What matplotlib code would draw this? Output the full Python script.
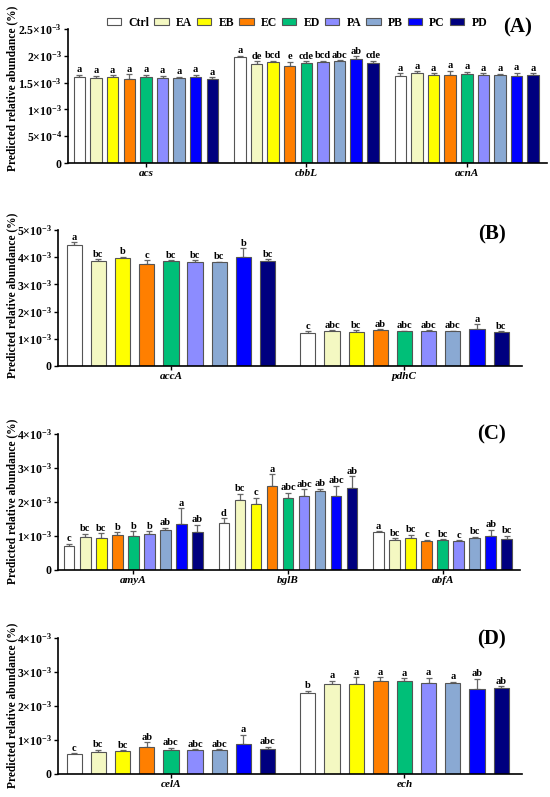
import matplotlib
matplotlib.use("Agg")
import matplotlib.pyplot as plt
from matplotlib.patches import Patch

plt.rcParams['font.family'] = ['Liberation Serif', 'DejaVu Serif']
plt.rcParams['font.weight'] = 'bold'
plt.rcParams['mathtext.fontset'] = 'custom'
plt.rcParams['mathtext.rm'] = 'Liberation Serif:bold'
plt.rcParams['mathtext.bf'] = 'Liberation Serif:bold'
plt.rcParams['mathtext.it'] = 'Liberation Serif:bold:italic'
plt.rcParams['mathtext.default'] = 'bf'

# ---------------- data (values in units of 1e-3 %) ----------------
treatments = ['Ctrl', 'EA', 'EB', 'EC', 'ED', 'PA', 'PB', 'PC', 'PD']
colors = ['#FFFFFF', '#F4F8C2', '#FFFF00', '#FF7F00', '#00BF78',
          '#8C8CFF', '#8AA9D3', '#0000FF', '#00007F']

# Panel A
genes_A = ['acs', 'cbbL', 'acnA']
acs_mean = [1.61, 1.58, 1.60, 1.57, 1.60, 1.58, 1.59, 1.60, 1.575]
acs_err = [0.035, 0.045, 0.04, 0.09, 0.045, 0.05, 0.02, 0.05, 0.025]
acs_sig = ['a', 'a', 'a', 'a', 'a', 'a', 'a', 'a', 'a']
cbbL_mean = [1.975, 1.85, 1.88, 1.81, 1.875, 1.89, 1.905, 1.94, 1.875]
cbbL_err = [0.025, 0.05, 0.03, 0.08, 0.025, 0.02, 0.012, 0.05, 0.03]
cbbL_sig = ['a', 'de', 'bcd', 'e', 'cde', 'bcd', 'abc', 'ab', 'cde']
acnA_mean = [1.625, 1.675, 1.64, 1.64, 1.66, 1.64, 1.64, 1.625, 1.65]
acnA_err = [0.05, 0.04, 0.03, 0.08, 0.04, 0.04, 0.025, 0.06, 0.02]
acnA_sig = ['a', 'a', 'a', 'a', 'a', 'a', 'a', 'a', 'a']
yticks_A = [0, 0.5, 1.0, 1.5, 2.0, 2.5]
yticklabels_A = ['0', r'$5×10^{-4}$', r'$1×10^{-3}$', r'$1.5×10^{-3}$',
                 r'$2×10^{-3}$', r'$2.5×10^{-3}$']

# Panel B
genes_B = ['accA', 'pdhC']
accA_mean = [4.45, 3.87, 3.97, 3.75, 3.85, 3.84, 3.82, 4.00, 3.86]
accA_err = [0.10, 0.05, 0.05, 0.13, 0.05, 0.06, 0.02, 0.33, 0.07]
accA_sig = ['a', 'bc', 'b', 'c', 'bc', 'bc', 'bc', 'b', 'bc']
pdhC_mean = [1.20, 1.27, 1.25, 1.32, 1.27, 1.27, 1.27, 1.36, 1.25]
pdhC_err = [0.07, 0.04, 0.07, 0.03, 0.03, 0.04, 0.03, 0.17, 0.03]
pdhC_sig = ['c', 'abc', 'bc', 'ab', 'abc', 'abc', 'abc', 'a', 'bc']
yticks_B = [0, 1, 2, 3, 4, 5]
yticklabels_B = ['0', r'$1×10^{-3}$', r'$2×10^{-3}$', r'$3×10^{-3}$',
                 r'$4×10^{-3}$', r'$5×10^{-3}$']

# Panel C
genes_C = ['amyA', 'bglB', 'abfA']
amyA_mean = [0.72, 0.96, 0.94, 1.02, 1.01, 1.06, 1.18, 1.35, 1.11]
amyA_err = [0.05, 0.11, 0.15, 0.09, 0.13, 0.08, 0.06, 0.46, 0.22]
amyA_sig = ['c', 'bc', 'bc', 'b', 'b', 'b', 'ab', 'a', 'ab']
bglB_mean = [1.37, 2.07, 1.95, 2.47, 2.13, 2.17, 2.32, 2.19, 2.40]
bglB_err = [0.15, 0.18, 0.18, 0.35, 0.14, 0.20, 0.07, 0.29, 0.35]
bglB_sig = ['d', 'bc', 'c', 'a', 'abc', 'abc', 'ab', 'abc', 'ab']
abfA_mean = [1.11, 0.88, 0.95, 0.86, 0.88, 0.85, 0.93, 1.01, 0.90]
abfA_err = [0.03, 0.06, 0.09, 0.03, 0.03, 0.03, 0.05, 0.18, 0.11]
abfA_sig = ['a', 'bc', 'bc', 'c', 'bc', 'c', 'bc', 'ab', 'bc']
yticks_CD = [0, 1, 2, 3, 4]
yticklabels_CD = ['0', r'$1×10^{-3}$', r'$2×10^{-3}$', r'$3×10^{-3}$',
                  r'$4×10^{-3}$']

# Panel D
genes_D = ['celA', 'ech']
celA_mean = [0.58, 0.66, 0.67, 0.80, 0.72, 0.70, 0.71, 0.87, 0.73]
celA_err = [0.04, 0.05, 0.03, 0.14, 0.05, 0.03, 0.02, 0.29, 0.07]
celA_sig = ['c', 'bc', 'bc', 'ab', 'abc', 'abc', 'abc', 'a', 'abc']
ech_mean = [2.37, 2.66, 2.65, 2.74, 2.73, 2.69, 2.68, 2.51, 2.53]
ech_err = [0.08, 0.09, 0.20, 0.11, 0.08, 0.14, 0.03, 0.29, 0.06]
ech_sig = ['b', 'a', 'a', 'a', 'a', 'a', 'a', 'ab', 'ab']

panel_labels = ['(A)', '(B)', '(C)', '(D)']
ylabel = 'Predicted relative abundance (%)'

# ---------------- figure ----------------
W, H = 550, 797
fig = plt.figure(figsize=(W / 100, H / 100), dpi=100)


def px_axes(left, right, top, bottom):
    return fig.add_axes([left / W, 1 - bottom / H, (right - left) / W, (bottom - top) / H])


panels = [
    dict(box=(68, 547, 29, 163), genes=genes_A,
         means=[acs_mean, cbbL_mean, acnA_mean], errs=[acs_err, cbbL_err, acnA_err],
         sigs=[acs_sig, cbbL_sig, acnA_sig], ylim=2.5, yt=yticks_A, ytl=yticklabels_A,
         xlim=(-0.69, 28.15), bw=0.69, cap=2.0, lab=(518, 27), ylab_y=88),
    dict(box=(58, 522, 230, 366), genes=genes_B,
         means=[accA_mean, pdhC_mean], errs=[accA_err, pdhC_err],
         sigs=[accA_sig, pdhC_sig], ylim=5, yt=yticks_B, ytl=yticklabels_B,
         xlim=(-0.67, 18.52), bw=0.63, cap=2.4, lab=(492, 234), ylab_y=295),
    dict(box=(58, 520, 434, 570), genes=genes_C,
         means=[amyA_mean, bglB_mean, abfA_mean], errs=[amyA_err, bglB_err, abfA_err],
         sigs=[amyA_sig, bglB_sig, abfA_sig], ylim=4, yt=yticks_CD, ytl=yticklabels_CD,
         xlim=(-0.70, 28.15), bw=0.66, cap=2.0, lab=(491, 434), ylab_y=501),
    dict(box=(58, 522, 638, 774), genes=genes_D,
         means=[celA_mean, ech_mean], errs=[celA_err, ech_err],
         sigs=[celA_sig, ech_sig], ylim=4, yt=yticks_CD, ytl=yticklabels_CD,
         xlim=(-0.67, 18.52), bw=0.63, cap=2.4, lab=(491, 639), ylab_y=705),
]

G = 9.66
for p, plab in zip(panels, panel_labels):
    ax = px_axes(*p['box'])
    centers = []
    for g, (m, e, s) in enumerate(zip(p['means'], p['errs'], p['sigs'])):
        xs = [g * G + i for i in range(len(treatments))]
        centers.append(g * G + (len(treatments) - 1) / 2)
        ax.bar(xs, m, width=p['bw'], color=colors, edgecolor='#555555', linewidth=0.8, zorder=2)
        ax.errorbar(xs, m, yerr=[[0] * len(e), e], fmt='none', ecolor='#666666',
                    elinewidth=0.9, capsize=p['cap'], capthick=0.9, zorder=1)
        for x, mm, ee, ss in zip(xs, m, e, s):
            ax.annotate(ss, (x, mm + ee), xytext=(0, 0.3), textcoords='offset points',
                        ha='center', va='bottom', fontsize=7.5, fontweight='bold')
    ax.set_xlim(*p['xlim'])
    ax.set_ylim(0, p['ylim'])
    ax.set_xticks(centers)
    ax.set_xticklabels(p['genes'], fontsize=8, fontstyle='italic', fontweight='bold')
    ax.set_yticks(p['yt'])
    ax.set_yticklabels(p['ytl'], fontsize=8.5)
    for sp in ['top', 'right']:
        ax.spines[sp].set_visible(False)
    for sp in ['left', 'bottom']:
        ax.spines[sp].set_linewidth(1.2)
    ax.tick_params(axis='both', direction='out', length=3, width=1.0, pad=1.5)
    fig.text(p['lab'][0] / W, 1 - p['lab'][1] / H, plab, ha='center', va='center',
             fontsize=15, fontweight='bold')
    fig.text(12 / W, 1 - p['ylab_y'] / H, ylabel, rotation=90, ha='center', va='center',
             fontsize=8.3, fontweight='bold')

handles = [Patch(facecolor=c, edgecolor='#555555', linewidth=0.8) for c in colors]
fig.legend(handles, treatments, loc='center', bbox_to_anchor=(297 / W, 1 - 23 / H),
           ncol=9, frameon=False, handlelength=1.2, handleheight=0.5,
           handletextpad=0.6, columnspacing=0.45, borderpad=0,
           prop={'weight': 'bold', 'size': 8.5})

fig.savefig('out.png', dpi=100)
